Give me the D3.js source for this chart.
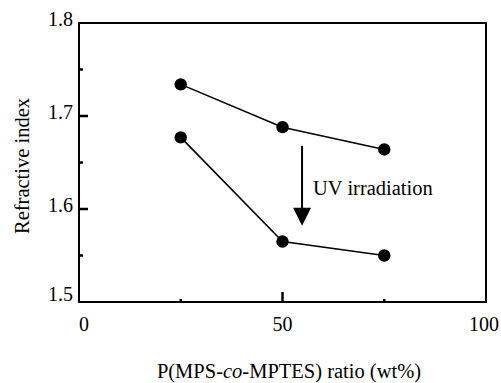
<!DOCTYPE html>
<html><head><meta charset="utf-8">
<script src="https://cdn.jsdelivr.net/npm/d3@7"></script>
<style>
html,body{margin:0;padding:0;background:#fff;}
svg{display:block;}
text{font-family:"Liberation Serif","Times New Roman",serif;fill:#000;}
</style></head>
<body>
<svg id="chart" width="501" height="383"></svg>
<script>
// ---- data ----
const ratios = [25, 50, 75];                 // P(MPS-co-MPTES) ratio (wt%)
const beforeUV = [1.734, 1.688, 1.664];      // refractive index before UV
const afterUV = [1.677, 1.565, 1.550];       // refractive index after UV
const xTicks = [0, 50, 100];
const xMinorTicks = [25, 75];
const yTicks = [1.5, 1.6, 1.7, 1.8];
const yMinorTicks = [1.55, 1.65, 1.75];
const xTitle = ["P(MPS-", "co", "-MPTES) ratio (wt%)"];
const yTitle = "Refractive index";
const arrowLabel = "UV irradiation";

// ---- layout ----
const svg = d3.select("#chart");
const L = 79, R = 486, T = 23, B = 302;
const x = d3.scaleLinear().domain([0, 100]).range([L, R]);
const y = d3.scaleLinear().domain([1.5, 1.8]).range([B, T]);

// frame
svg.append("rect").attr("x", L).attr("y", T).attr("width", R - L).attr("height", B - T)
  .attr("fill", "none").attr("stroke", "#000").attr("stroke-width", 2);

// y ticks (inward)
const g = svg.append("g");
g.selectAll(".ytM").data(yTicks.filter(d => d > 1.5 && d < 1.8)).join("line")
  .attr("x1", L).attr("x2", L + 9).attr("y1", d => y(d)).attr("y2", d => y(d))
  .attr("stroke", "#000").attr("stroke-width", 2.5);
g.selectAll(".ytm").data(yMinorTicks).join("line")
  .attr("x1", L).attr("x2", L + 4).attr("y1", d => y(d)).attr("y2", d => y(d))
  .attr("stroke", "#000").attr("stroke-width", 2.5);
g.selectAll(".ytl").data(yTicks).join("text")
  .attr("x", L - 6).attr("y", d => y(d) + (d === 1.5 ? -1 : 3))
  .attr("text-anchor", "end").attr("font-size", 20)
  .text(d => d3.format(".1f")(d));

// x ticks (inward)
g.selectAll(".xtM").data(xTicks.filter(d => d > 0 && d < 100)).join("line")
  .attr("x1", d => x(d)).attr("x2", d => x(d)).attr("y1", B).attr("y2", B - 10)
  .attr("stroke", "#000").attr("stroke-width", 2.5);
g.selectAll(".xtm").data(xMinorTicks).join("line")
  .attr("x1", d => x(d)).attr("x2", d => x(d)).attr("y1", B).attr("y2", B - 3)
  .attr("stroke", "#000").attr("stroke-width", 2.5);
g.selectAll(".xtl").data(xTicks).join("text")
  .attr("x", d => x(d) + (d === 0 ? 5 : d === 100 ? -2 : 0)).attr("y", 331)
  .attr("text-anchor", "middle").attr("font-size", 20)
  .text(d => d);

// titles
const xt = svg.append("text").attr("x", 289).attr("y", 378)
  .attr("text-anchor", "middle").attr("font-size", 20.5);
xt.append("tspan").text(xTitle[0]);
xt.append("tspan").attr("font-style", "italic").text(xTitle[1]);
xt.append("tspan").text(xTitle[2]);

svg.append("text").attr("transform", "translate(28.5,166) rotate(-90)")
  .attr("text-anchor", "middle").attr("font-size", 20.5).text(yTitle);

// series
const line = d3.line().x(d => x(d[0])).y(d => y(d[1]));
[beforeUV, afterUV].forEach(vals => {
  const pts = ratios.map((r, i) => [r, vals[i]]);
  svg.append("path").attr("d", line(pts)).attr("fill", "none")
    .attr("stroke", "#000").attr("stroke-width", 1.6);
  svg.selectAll(null).data(pts).join("circle")
    .attr("cx", d => x(d[0])).attr("cy", d => y(d[1])).attr("r", 6.2).attr("fill", "#000");
});

// arrow annotation
const ax = 54.8, ay0 = 1.668, ay1 = 1.582;
const headH = 18, headW = 9;
svg.append("line").attr("x1", x(ax)).attr("x2", x(ax)).attr("y1", y(ay0)).attr("y2", y(ay1) - headH + 1)
  .attr("stroke", "#000").attr("stroke-width", 2);
svg.append("path")
  .attr("d", `M${x(ax) - headW},${y(ay1) - headH} L${x(ax) + headW},${y(ay1) - headH} L${x(ax)},${y(ay1)} Z`)
  .attr("fill", "#000");
svg.append("text").attr("x", x(57.5)).attr("y", y(1.615)).attr("font-size", 20.5).text(arrowLabel);
</script>
</body></html>
